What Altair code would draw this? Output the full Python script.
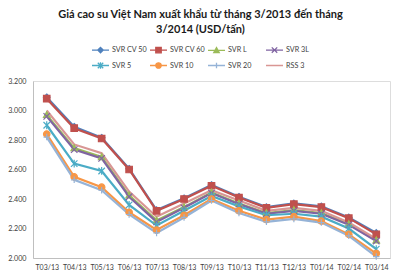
import re
import altair as alt
import pandas as pd

months = ["T03/13", "T04/13", "T05/13", "T06/13", "T07/13", "T08/13", "T09/13",
          "T10/13", "T11/13", "T12/13", "T01/14", "T02/14", "T03/14"]
series_names = ["SVR CV 50", "SVR CV 60", "SVR L", "SVR 3L", "SVR 5", "SVR 10", "SVR 20", "RSS 3"]

svr_cv50 = [3090, 2890, 2815, 2605, 2325, 2405, 2495, 2415, 2345, 2370, 2350, 2275, 2170]
svr_cv60 = [3080, 2880, 2810, 2600, 2320, 2400, 2490, 2410, 2340, 2365, 2345, 2270, 2160]
svr_l = [2970, 2745, 2685, 2425, 2255, 2345, 2445, 2370, 2305, 2325, 2305, 2230, 2120]
svr_3l = [2960, 2735, 2675, 2415, 2245, 2340, 2440, 2365, 2300, 2320, 2300, 2225, 2115]
svr_5 = [2900, 2640, 2590, 2360, 2220, 2320, 2420, 2350, 2290, 2300, 2280, 2200, 2060]
svr_10 = [2840, 2550, 2480, 2310, 2190, 2290, 2400, 2320, 2260, 2280, 2250, 2160, 2030]
svr_20 = [2820, 2530, 2460, 2295, 2170, 2275, 2390, 2305, 2245, 2265, 2240, 2150, 2010]
rss_3 = [3000, 2770, 2710, 2450, 2280, 2370, 2460, 2390, 2320, 2340, 2320, 2240, 2130]

colors = ["#4F81BD", "#C0504D", "#9BBB59", "#8064A2", "#4BACC6", "#F79646", "#95B3D7", "#D99694"]


def circle_path(r):
    return f"M{-r},0A{r},{r},0,1,0,{r},0A{r},{r},0,1,0,{-r},0Z"


def scale_path(p, f):
    return re.sub(r"-?\d+(?:\.\d+)?", lambda m: f"{float(m.group(0)) * f:.3f}", p)


base_markers = [
    "M0,-1L1,0L0,1L-1,0Z",                    # diamond
    "M-1,-1L1,-1L1,1L-1,1Z",                  # square
    "M0,-1L1,0.8L-1,0.8Z",                    # triangle
    "M-1,-1L1,1M-1,1L1,-1",                   # x
    "M-1,-1L1,1M-1,1L1,-1M0,-1.2L0,1.2",      # asterisk
    None,                                     # circle
    "M-1,0L1,0M0,-1L0,1",                     # plus
    "M0,0L0.01,0",                            # none
]

marker_paths = [circle_path(1) if p is None else p for p in base_markers]
legend_paths = ["M-1,0L1,0" + (circle_path(0.32) if p is None else scale_path(p, 0.32))
                for p in base_markers]

# legend fills column by column: reorder so rows read like the reference
leg_order = [0, 4, 1, 5, 2, 6, 3, 7]
leg_domain = [series_names[i] for i in leg_order]
leg_colors = [colors[i] for i in leg_order]
leg_shapes = [legend_paths[i] for i in leg_order]

all_values = [svr_cv50, svr_cv60, svr_l, svr_3l, svr_5, svr_10, svr_20, rss_3]
rows = []
for name, vals in zip(series_names, all_values):
    for m, v in zip(months, vals):
        rows.append({"month": m, "series": name, "price": v})
df = pd.DataFrame(rows)

x_enc = alt.X("month:N", sort=months, scale=alt.Scale(type="point", padding=0.5),
              axis=alt.Axis(title=None, labelAngle=0, ticks=False, domainColor="#BFBFBF",
                            orient="bottom",
                            labelFont="Lato", labelFontSize=7, labelColor="#404040",
                            labelPadding=5))
y_enc = alt.Y("price:Q", scale=alt.Scale(domain=[2000, 3200], nice=False, zero=False),
              axis=alt.Axis(title=None, values=[2000, 2200, 2400, 2600, 2800, 3000, 3200],
                            grid=False, ticks=False, domainColor="#BFBFBF", orient="left",
                            labelExpr="replace(format(datum.value, ',.0f'), ',', '.')",
                            labelFont="Lato", labelFontSize=7.2, labelColor="#404040",
                            labelPadding=7))

col_scale = alt.Scale(domain=series_names, range=colors)
leg_col_scale = alt.Scale(domain=leg_domain, range=leg_colors)

lines = alt.Chart(df).mark_line(strokeWidth=2.2).encode(
    x=x_enc, y=y_enc,
    color=alt.Color("series:N", scale=col_scale, legend=None),
)

points = alt.Chart(df).mark_point(filled=True, strokeWidth=1.2, size=42, opacity=1).encode(
    x=x_enc, y=y_enc,
    fill=alt.Fill("series:N", scale=col_scale, legend=None),
    stroke=alt.Stroke("series:N", scale=col_scale, legend=None),
    shape=alt.Shape("series:N", scale=alt.Scale(domain=series_names, range=marker_paths), legend=None),
)

leg = alt.Legend(title=None, orient="none", legendX=58, legendY=-41, columns=4,
                 columnPadding=0, rowPadding=0, gridAlign="all",
                 labelFont="Lato", labelFontSize=7.2, labelColor="#404040", labelOffset=2,
                 symbolSize=289, symbolStrokeWidth=1.3, symbolOpacity=1)

legend_layer = alt.Chart(df).mark_point(filled=True, strokeWidth=1.3, size=289, opacity=0).encode(
    x=x_enc, y=y_enc,
    fill=alt.Fill("series:N", scale=leg_col_scale, legend=leg),
    stroke=alt.Stroke("series:N", scale=leg_col_scale, legend=leg),
    shape=alt.Shape("series:N", scale=alt.Scale(domain=leg_domain, range=leg_shapes),
                    legend=leg),
)

chart = alt.layer(lines, points, legend_layer).resolve_scale(
    color="independent", fill="independent", stroke="independent", shape="independent"
).properties(
    width=357, height=177,
    autosize=alt.AutoSizeParams(type="none"),
    padding={"left": 33, "top": 81, "right": 10, "bottom": 21},
    title=alt.TitleParams(
        text=["Giá cao su Việt Nam xuất khẩu từ tháng 3/2013 đến tháng", "3/2014 (USD/tấn)"],
        font="Lato", fontSize=11, fontWeight="bold", color="#1A1A1A",
        anchor="middle", frame="group", offset=5, dx=-11, lineHeight=15,
    ),
).configure_view(stroke=None).configure(background="white")

chart.save("out.html", embed_options={"renderer": "svg", "actions": False})
